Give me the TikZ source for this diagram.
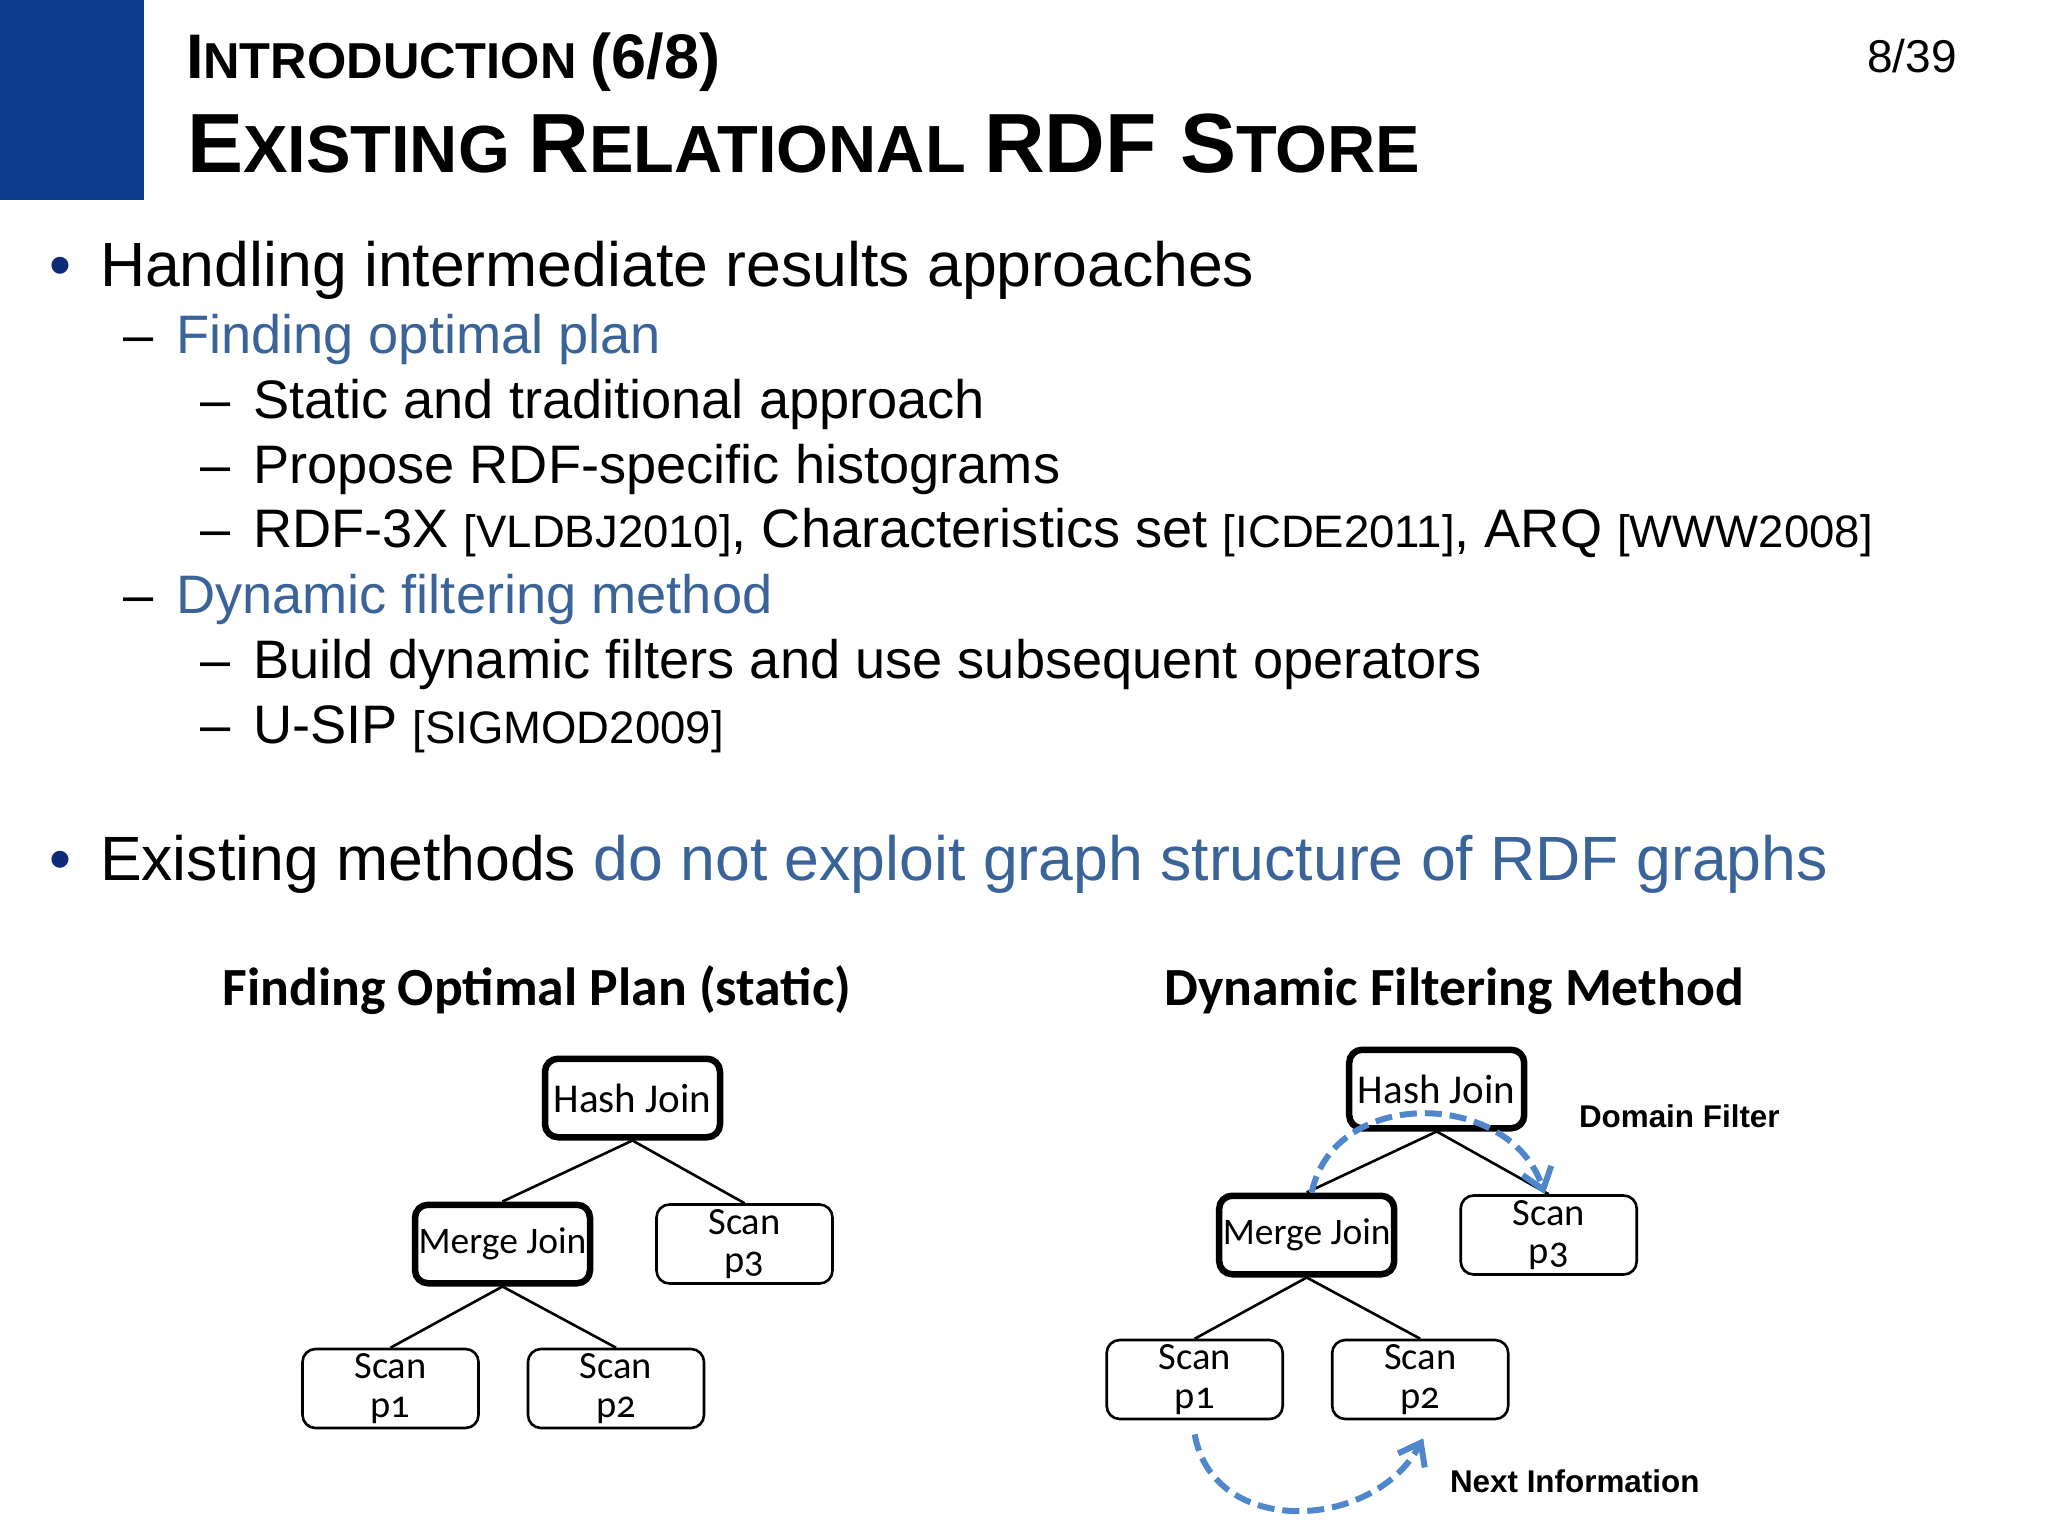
\documentclass[tikz,border=0pt]{standalone}
\usepackage{fontspec}
\setmainfont{Liberation Sans}
\newfontfamily\boxfont[Numbers=OldStyle]{Carlito}
\usetikzlibrary{arrows.meta,positioning,calc}

\definecolor{slideblue}{HTML}{0B3B8A}
\definecolor{headblue}{HTML}{3A6499}
\definecolor{bulletblue}{HTML}{0F2A78}
\definecolor{flowblue}{HTML}{4F86CC}

\newcommand{\px}[1]{\fontsize{#1bp}{#1bp}\selectfont}
\newcommand{\reft}[1]{{\px{45.5}[#1]}}

\tikzset{
  txt/.style={anchor=base west,inner sep=0bp,outer sep=0bp},
  lvla/.style={txt,font=\px{62.55}},
  lvlb/.style={txt,font=\px{54.2}},
  lvlc/.style={txt,font=\px{54.2}},
  plan/.style={anchor=base,inner sep=0bp,font=\boxfont\bfseries\px{53.7}},
  note/.style={txt,font=\bfseries\px{31.4}},
  scanbox/.style={draw,line width=2.6bp,rounded corners=13bp,minimum width=176bp,minimum height=79bp,
                  inner sep=0bp,align=center,font=\boxfont\px{38.5}},
  joinbox/.style={scanbox,line width=6.5bp,minimum width=175bp,minimum height=78.5bp,font=\boxfont\px{41}},
  mergebox/.style={joinbox,font=\boxfont\px{37.5}},
  link/.style={line width=2.6bp},
  flow/.style={draw=flowblue,line width=6bp,dash pattern=on 17bp off 8bp,
               -{Straight Barb[length=20bp,width=30bp,line width=6bp]}}
}

\begin{document}
\begin{tikzpicture}[x=1bp,y=-1bp]
  \useasboundingbox (0,0) rectangle (2048,1536);
  \fill[white] (0,0) rectangle (2048,1536);
  \fill[slideblue] (0,0) rectangle (144,200);

  % header
  \node[txt,font=\bfseries] (T1) at (186,79) {\px{63}I\px{50.5}NTRODUCTION \px{63}(6/8)};
  \node[txt,font=\bfseries] (T2) at (187,173) {\px{84}E\px{66.7}XISTING \px{84}R\px{66.7}ELATIONAL \px{84}RDF S\px{66.7}TORE};
  \node[anchor=base east,inner sep=0bp,font=\px{46}] (PG) at (1957,73) {8/39};

  % bullets
  \node[lvla,text=bulletblue] (B1) at (49,286) {•};
  \node[lvla] (L1) at (100,286) {Handling intermediate results approaches};
  \node[lvlb] (D2) at (123,353) {–};
  \node[lvlb,text=headblue] (L2) at (176,353) {Finding optimal plan};
  \node[lvlc] (D3) at (200,418) {–};
  \node[lvlc] (L3) at (253,418) {Static and traditional approach};
  \node[lvlc] (D4) at (200,483) {–};
  \node[lvlc] (L4) at (253,483) {Propose RDF-specific histograms};
  \node[lvlc] (D5) at (200,547) {–};
  \node[lvlc] (L5) at (253,547) {RDF-3X \reft{VLDBJ2010}, Characteristics set \reft{ICDE2011}, ARQ \reft{WWW2008}};
  \node[lvlb] (D6) at (123,613) {–};
  \node[lvlb,text=headblue] (L6) at (176,613) {Dynamic filtering method};
  \node[lvlc] (D7) at (200,678) {–};
  \node[lvlc] (L7) at (253,678) {Build dynamic filters and use subsequent operators};
  \node[lvlc] (D8) at (200,743) {–};
  \node[lvlc] (L8) at (253,743) {U-SIP \reft{SIGMOD2009}};
  \node[lvla,text=bulletblue] (B2) at (49,880) {•};
  \node[lvla] (L9) at (100,880) {Existing methods \textcolor{headblue}{do not exploit graph structure of RDF graphs}};

  % static plan
  \node[plan] (P1) at (537,1005) {Finding Optimal Plan (static)};
  \node[joinbox] (HJa) at (632.5,1098) {Hash Join};
  \node[mergebox] (MJa) [below of=HJa,node distance=146bp,xshift=-130bp] {Merge Join};
  \node[scanbox] (S3a) [below of=HJa,node distance=146bp,xshift=112bp] {Scan\\p3};
  \node[scanbox] (S1a) [below of=MJa,node distance=144.5bp,xshift=-112bp] {Scan\\p1};
  \node[scanbox] (S2a) [below of=MJa,node distance=144.5bp,xshift=113.5bp] {Scan\\p2};

  \path[link] (HJa.south) edge (MJa.north)
              (HJa.south) edge (S3a.north)
              (MJa.south) edge (S1a.north)
              (MJa.south) edge (S2a.north);

  % dynamic filtering
  \node[plan] (P2) at (1454,1005) {Dynamic Filtering Method};
  \node[joinbox] (HJb) at (1436.7,1089) {Hash Join};
  \node[mergebox] (MJb) [below of=HJb,node distance=146bp,xshift=-130bp] {Merge Join};
  \node[scanbox] (S3b) [below of=HJb,node distance=146bp,xshift=112bp] {Scan\\p3};
  \node[scanbox] (S1b) [below of=MJb,node distance=144.5bp,xshift=-112bp] {Scan\\p1};
  \node[scanbox] (S2b) [below of=MJb,node distance=144.5bp,xshift=113.5bp] {Scan\\p2};

  \path[link] (HJb.south) edge (MJb.north)
              (HJb.south) edge (S3b.north)
              (MJb.south) edge (S1b.north)
              (MJb.south) edge (S2b.north);

  \draw[flow] ($(MJb.north)+(5,0)$) to[out=78,in=108,looseness=1.2] ($(S3b.north)+(-4,0)$);
  \draw[flow] ($(S1b.south)+(0,14)$) to[out=-80,in=-118,looseness=1.18] ($(S2b.south)+(3,18)$);

  \node[note] (DF) at (1579,1127) {Domain Filter};
  \node[note] (NI) at (1450,1492) {Next Information};
\end{tikzpicture}
\end{document}
